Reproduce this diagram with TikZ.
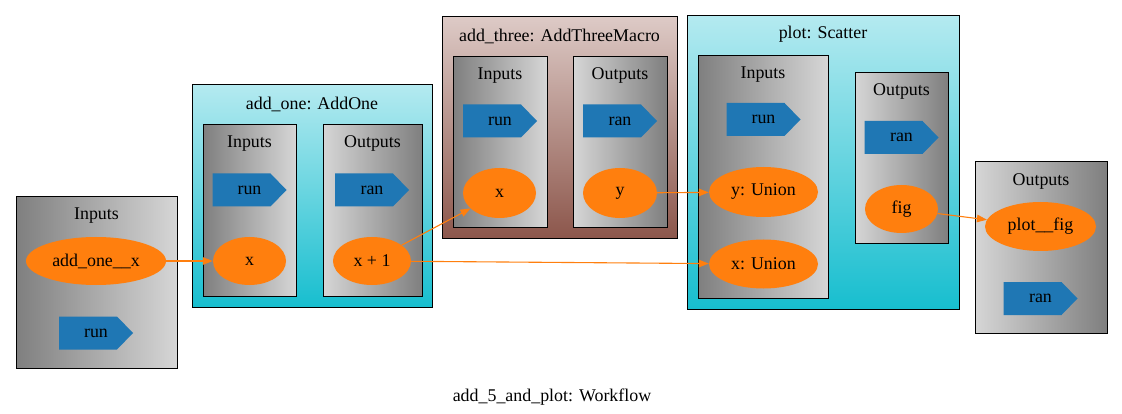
\documentclass[tikz,border=0pt]{standalone}
\usepackage{fontspec}
\setmainfont{Liberation Serif}
\usetikzlibrary{shapes.geometric,arrows.meta}
\definecolor{tabblue}{HTML}{1F77B4}
\definecolor{taborange}{HTML}{FF7F0E}
\definecolor{cyantop}{HTML}{B4EAF0}
\definecolor{cyanbot}{HTML}{17BECF}
\definecolor{browntop}{HTML}{DDCAC6}
\definecolor{brownbot}{HTML}{8C564B}
\definecolor{graydark}{HTML}{7F7F7F}
\definecolor{graylight}{HTML}{D6D6D6}
\begin{document}
\begin{tikzpicture}[x=1pt,y=-1pt,
  font=\fontsize{17.9}{20}\selectfont,
  box/.style={draw=black, line width=1pt, inner sep=0pt, rectangle},
  inbox/.style={box, left color=graydark, right color=graylight},
  outbox/.style={box, left color=graylight, right color=graydark},
  cyanbox/.style={box, top color=cyantop, bottom color=cyanbot},
  brownbox/.style={box, top color=browntop, bottom color=brownbot},
  ttl/.style={inner sep=0pt, text=black, yshift=-1.5pt},
  port/.style={ellipse, fill=taborange, inner sep=0pt, minimum height=48pt},
  cds/.style={rectangle, minimum width=74pt, minimum height=33pt, inner sep=0pt,
    path picture={\fill[tabblue] (path picture bounding box.north west)
      -- ([xshift=-16pt]path picture bounding box.north east)
      -- (path picture bounding box.east)
      -- ([xshift=-16pt]path picture bounding box.south east)
      -- (path picture bounding box.south west) -- cycle;}},
  flow/.style={draw=taborange, line width=1.1pt, -{Triangle[length=10pt,width=7.5pt]}}
]
\useasboundingbox (0,0) rectangle (1122,414);

% left Inputs
\node[inbox, minimum width=161pt, minimum height=171pt] (lin) at (96.5,282.5) {};
\node[ttl] (lin-t) at (96.5,214) {Inputs};
\node[port, minimum width=140pt] (addx) at (96,261) {add\_one\_\_x};
\node[cds] (lrun) at (96,333) {run};

% add_one
\node[cyanbox, minimum width=240pt, minimum height=222pt] (ao) at (312,196) {};
\node[ttl] (ao-t) at (312,103) {add\_one: AddOne};
\node[inbox, minimum width=93pt, minimum height=171pt] (aoin) at (249.5,210.5) {};
\node[ttl] (aoin-t) at (249.5,142) {Inputs};
\node[outbox, minimum width=99pt, minimum height=171pt] (aoout) at (372.5,210.5) {};
\node[ttl] (aoout-t) at (372.5,142) {Outputs};
\node[cds] (aorun) at (249.5,190) {run};
\node[cds] (aoran) at (372,190) {ran};
\node[port, minimum width=73pt] (aox) at (249.5,261) {x};
\node[port, minimum width=78pt] (aoy) at (372,261) {x + 1};

% add_three
\node[brownbox, minimum width=235pt, minimum height=222pt] (at) at (559.5,128) {};
\node[ttl] (at-t) at (559.5,35) {add\_three: AddThreeMacro};
\node[inbox, minimum width=94pt, minimum height=171pt] (atin) at (500,142.5) {};
\node[ttl] (atin-t) at (500,74) {Inputs};
\node[outbox, minimum width=94pt, minimum height=171pt] (atout) at (620,142.5) {};
\node[ttl] (atout-t) at (620,74) {Outputs};
\node[cds] (atrun) at (500,121) {run};
\node[cds] (atran) at (620,121) {ran};
\node[port, minimum width=73pt, minimum height=50pt] (atx) at (499.5,193) {x};
\node[port, minimum width=74pt, minimum height=50pt] (aty) at (620,193) {y};

% plot
\node[cyanbox, minimum width=272pt, minimum height=293pt] (pl) at (823,162.5) {};
\node[ttl] (pl-t) at (823,33) {plot: Scatter};
\node[inbox, minimum width=130pt, minimum height=242pt] (plin) at (763,177) {};
\node[ttl] (plin-t) at (763,73) {Inputs};
\node[cds] (plrun) at (763.5,119.5) {run};
\node[port, minimum width=109pt, minimum height=50pt] (ply) at (763.5,192) {y: Union};
\node[port, minimum width=109pt, minimum height=49pt] (plx) at (763.5,264) {x: Union};
\node[outbox, minimum width=93pt, minimum height=171pt] (plout) at (901.5,158.5) {};
\node[ttl] (plout-t) at (901.5,90) {Outputs};
\node[cds] (plran) at (901.5,137.5) {ran};
\node[port, minimum width=73pt] (plfig) at (901.5,209) {fig};

% right Outputs
\node[outbox, minimum width=132pt, minimum height=171pt] (rout) at (1041,247.5) {};
\node[ttl] (rout-t) at (1041,180) {Outputs};
\node[port, minimum width=111pt, minimum height=49pt] (pfig) at (1040.5,226.5) {plot\_\_fig};
\node[cds] (rran) at (1040.5,298.5) {ran};

% edges
\draw[flow] (addx) -- (aox);
\draw[flow] (aoy) -- (atx);
\draw[flow] (aoy) -- (plx);
\draw[flow] (aty) -- (ply);
\draw[flow] (plfig) -- (pfig);

\node[ttl] (wf) at (552,396) {add\_5\_and\_plot: Workflow};
\end{tikzpicture}
\end{document}
